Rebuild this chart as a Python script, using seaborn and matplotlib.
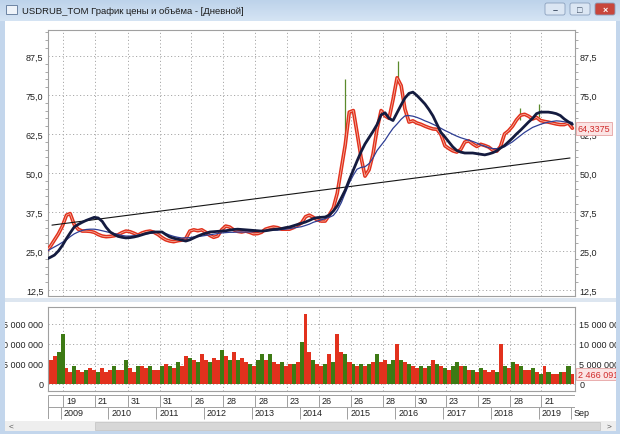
import numpy as np
import pandas as pd
import seaborn as sns
import matplotlib
matplotlib.use('Agg')
import matplotlib.pyplot as plt
import matplotlib.dates as mdates
import matplotlib.transforms as mtrans
from matplotlib.colors import LinearSegmentedColormap
from matplotlib.patches import Rectangle, FancyBboxPatch
from matplotlib.ticker import MultipleLocator

W, H = 620, 435
RED = '#e2311d'
GREEN = '#3d7a14'
NAVY = '#141b3f'
BLUE = '#2f3f95'
GRID = '#a9a9a9'
FRAME = '#a0a0a0'
WIN = '#c3d6ec'

# monthly values, Sep 2008 .. Sep 2019
close_price = [
    25.0, 26.5, 28.5, 30.5,
    33.0, 36.5, 37.0, 33.5, 32.0, 31.4, 31.4, 31.3, 31.0, 30.3, 29.8, 29.6,
    29.7, 29.9, 30.2, 30.9, 31.4, 31.2, 30.7, 30.1, 30.8, 31.2, 31.4, 31.0,
    30.3, 29.3, 28.6, 28.2, 28.0, 28.3, 28.5, 29.0, 31.4, 31.8, 31.5, 31.8,
    31.0, 30.0, 29.4, 29.8, 31.8, 33.0, 32.7, 31.8, 31.3, 31.1, 31.4, 31.0,
    30.5, 30.6, 31.0, 32.0, 32.4, 32.7, 32.5, 32.0, 32.0, 32.0, 32.5, 33.2,
    34.0, 36.0, 36.5, 35.8, 35.0, 34.6, 34.6, 36.5, 38.8, 43.5, 51.3, 59.0,
    69.5, 70.0, 63.0, 55.0, 49.0, 51.0, 56.0, 64.0, 70.0, 68.3, 67.5, 73.5,
    80.5, 78.0, 70.5, 66.3, 66.7, 66.0, 65.6, 65.0, 64.5, 64.1, 64.0, 62.3,
    58.7, 57.8, 57.1, 56.7, 57.5, 59.9, 60.3, 59.3, 58.5, 59.2, 58.8, 58.3,
    57.3, 57.0, 58.5, 62.5, 63.5, 65.0, 67.0, 68.5, 68.8, 68.2, 67.3, 67.8,
    66.8, 66.5, 66.3, 66.0, 65.7, 65.5, 65.5, 66.0, 64.3375,
]
ma_long = [
    22.4, 23.0, 23.7, 25.0,
    26.8, 29.0, 30.8, 32.7, 33.5, 34.2, 34.8, 35.3, 35.8, 35.6, 34.5, 32.6,
    31.1, 30.3, 29.7, 29.4, 29.2, 29.3, 29.5, 29.8, 30.2, 30.6, 30.9, 31.1,
    31.1, 31.1, 30.3, 29.5, 29.1, 28.8, 28.5, 28.2, 28.6, 29.2, 29.8, 30.3,
    30.7, 31.1, 31.2, 31.3, 31.4, 31.5, 31.7, 31.9, 32.0, 31.9, 31.8, 31.7,
    31.6, 31.5, 31.4, 31.5, 31.7, 31.9, 32.0, 32.2, 32.5, 32.7, 33.1, 33.5,
    33.9, 34.3, 34.8, 35.4, 35.7, 35.8, 35.9, 36.5, 37.8, 39.5, 42.0, 44.5,
    47.8, 51.0, 53.8, 56.8, 59.3, 61.3, 63.3, 65.5, 68.6, 69.3, 67.5, 66.8,
    69.3, 71.8, 74.0, 75.5, 75.9, 74.8, 73.5, 72.1, 70.3, 68.3, 65.6, 63.0,
    61.5, 59.9, 58.4, 57.2, 56.7, 56.4, 56.4, 56.4, 56.2, 56.0, 55.8, 56.1,
    56.5, 57.1, 58.0, 58.8, 60.0, 61.2, 62.5, 63.7, 65.0, 66.3, 67.5, 69.0,
    69.5, 69.5, 69.5, 69.3, 69.0, 68.4, 67.3, 66.4, 65.6,
]
ma_short = [
    24.8, 25.6, 26.3, 27.0,
    27.8, 28.6, 29.6, 30.5, 31.1, 31.6, 31.9, 32.0, 32.0, 31.8, 31.5, 31.2,
    30.9, 30.6, 30.3, 30.0, 29.8, 29.8, 29.9, 30.1, 30.3, 30.5, 30.7, 30.9,
    31.0, 31.0, 30.6, 30.1, 29.7, 29.4, 29.2, 29.2, 29.3, 29.5, 29.6, 29.8,
    30.0, 30.2, 30.4, 30.6, 30.8, 30.9, 31.0, 31.0, 31.1, 31.1, 31.1, 31.1,
    31.2, 31.3, 31.4, 31.5, 31.6, 31.7, 31.7, 31.9, 32.0, 32.2, 32.4, 32.6,
    32.8, 33.2, 33.6, 34.2, 34.6, 35.0, 35.4, 35.8, 36.4, 38.0, 40.5, 43.6,
    46.8, 49.3, 51.2, 51.8, 52.0, 53.0, 54.8, 57.2, 58.9, 60.5, 62.5, 64.3,
    65.7, 67.2, 68.3, 68.4, 68.2, 67.8, 67.3, 66.7, 66.2, 65.6, 65.0, 64.3,
    63.6, 63.0, 62.4, 61.8, 61.3, 60.9, 60.5, 60.1, 59.6, 59.0, 58.6, 58.1,
    57.8, 57.8, 58.0, 58.4, 59.2, 60.0, 61.0, 62.0, 63.0, 63.8, 64.6, 65.1,
    65.6, 66.0, 66.3, 66.5, 66.7, 66.6, 66.4, 66.3, 66.2,
]
volume_mln = [
    6.5, 6.0, 7.0, 8.0,
    12.5, 4.0, 3.0, 4.5, 3.5, 3.0, 3.5, 4.0, 3.5, 3.0, 4.0, 3.0,
    3.5, 4.5, 3.5, 3.5, 6.0, 4.0, 3.0, 4.5, 4.5, 4.0, 4.5, 3.5,
    3.5, 4.5, 5.0, 4.5, 4.0, 5.5, 4.5, 7.0, 6.5, 6.0, 5.5, 7.5,
    6.0, 5.5, 6.5, 6.0, 8.5, 7.0, 6.0, 8.0, 6.0, 6.5, 5.5, 5.0,
    4.5, 6.0, 7.5, 6.0, 7.5, 5.5, 5.0, 5.5, 4.5, 5.0, 5.0, 5.5,
    10.5, 17.5, 8.0, 6.0, 5.0, 4.5, 5.0, 7.5, 5.5, 12.5, 8.0, 7.5,
    5.5, 5.0, 4.5, 5.0, 4.5, 5.0, 5.5, 7.5, 5.5, 6.0, 5.0, 6.0,
    10.0, 6.0, 5.5, 5.0, 4.5, 4.0, 4.5, 4.0, 4.5, 6.0, 5.0, 4.5,
    4.0, 3.5, 4.5, 5.5, 4.5, 4.5, 3.5, 3.5, 3.0, 4.0, 3.5, 3.0,
    3.5, 3.0, 10.0, 4.5, 4.0, 5.5, 5.0, 4.5, 3.5, 3.5, 4.0, 3.0,
    2.5, 4.5, 3.0, 2.5, 2.5, 3.0, 3.0, 4.5, 2.466091,
]
# dominant bar colour of each month in the volume panel: g = up, r = down
volume_side = ''.join([
    'grrg',
    'grrgrrgrrgrr', 'rgrrgrrgrrgr', 'rgrgrgrrgrgr', 'rgrrgrgrgrrg',
    'rggrgrrgrrgr', 'grrgrrgrgrrg', 'rgrgrgrgrrgg', 'rgrgrrgrgrgr',
    'grggrgrgrgrr', 'rgrgrgrgrrgr',
    'grgrrgrgr',
])
# spikes (high wicks) seen on the price line
wick_dates = ['2014-12-16', '2016-01-21', '2018-08-08', '2019-01-02']
wick_low = [58.0, 79.0, 67.0, 68.0]
wick_high = [80.1, 85.9, 70.8, 72.1]
# trend line end points
trend_dates = ['2008-10-27', '2019-08-28']
trend_vals = [33.3, 54.8]

tick_dates = ['2009-01-19', '2009-09-21', '2010-05-31', '2011-01-31', '2011-09-26',
              '2012-05-28', '2013-01-28', '2013-09-23', '2014-05-26', '2015-01-26',
              '2015-09-28', '2016-05-30', '2017-01-23', '2017-09-25', '2018-05-28',
              '2019-01-21']
tick_days = ['19', '21', '31', '31', '26', '28', '28', '23', '26', '26', '28', '30',
             '23', '25', '28', '21']
year_starts = ['2009-01-01', '2010-01-01', '2011-01-01', '2012-01-01', '2013-01-01',
               '2014-01-01', '2015-01-01', '2016-01-01', '2017-01-01', '2018-01-01',
               '2019-01-01', '2019-09-01']
year_labels = ['2009', '2010', '2011', '2012', '2013', '2014', '2015', '2016', '2017',
               '2018', '2019', 'Sep']
price_ticks = [12.5, 25.0, 37.5, 50.0, 62.5, 75.0, 87.5]
vol_ticks = [0, 5, 10, 15]
vol_labels = ['0', '5 000 000', '10 000 000', '15 000 000']

months = pd.date_range('2008-09-01', '2019-09-01', freq='MS')
df = pd.DataFrame({
    'x': mdates.date2num(months + pd.Timedelta(days=14)),
    'close': close_price,
    'ma_long': ma_long,
    'ma_short': ma_short,
    'vol': volume_mln,
    'side': list(volume_side),
})
bin_edges = mdates.date2num(pd.date_range('2008-09-01', '2019-10-01', freq='MS'))
XLIM = (mdates.date2num(pd.Timestamp('2008-09-23')), mdates.date2num(pd.Timestamp('2019-10-05')))

sns.set_style('white')
plt.rcParams['font.family'] = ['Liberation Sans', 'DejaVu Sans']

fig = plt.figure(figsize=(W / 100, H / 100), dpi=100)
fig.patch.set_facecolor(WIN)


def px_rect(x0, y0, x1, y1):
    return [x0 / W, 1 - y1 / H, (x1 - x0) / W, (y1 - y0) / H]


# window background, title bar, scrollbar
bg = fig.add_axes([0, 0, 1, 1], zorder=-10)
bg.axis('off')
grad = np.linspace(0, 1, 40).reshape(-1, 1)
bg.imshow(grad, extent=(0, W, 22, 0), aspect='auto',
          cmap=LinearSegmentedColormap.from_list('tb', ['#bcd2ea', '#d5e4f4']))
bg.set_xlim(0, W)
bg.set_ylim(H, 0)
bg.add_patch(Rectangle((5, 22), 611, 411, fc='white', ec='none'))
bg.add_patch(Rectangle((6, 6), 11, 9, fc='#eef3f9', ec='#6d84a3', lw=0.7))
bg.text(22, 11.5, 'USDRUB_TOM График цены и объёма - [Дневной]', va='center',
        fontsize=6.8, color='#1c1c1c')
for x0, fc, sym, col in [(545, '#dbe6f3', '–', '#3a4a60'), (570, '#dbe6f3', '□', '#3a4a60'),
                         (595, '#c8463c', '×', 'white')]:
    bg.add_patch(FancyBboxPatch((x0, 4), 20, 12, boxstyle='round,pad=0,rounding_size=2',
                                fc=fc, ec='#8aa0bd', lw=0.6))
    bg.text(x0 + 10, 10.5, sym, ha='center', va='center', fontsize=6.5, color=col,
            fontweight='bold')
bg.add_patch(Rectangle((5, 299), 611, 4, fc='#dde6f0', ec='none'))
bg.add_patch(Rectangle((5, 422), 611, 10, fc='#eeeeee', ec='none'))
bg.add_patch(Rectangle((95, 423), 505, 8, fc='#d7d7d7', ec='#c2c2c2', lw=0.5))
bg.text(11, 427, '<', ha='center', va='center', fontsize=6, color='#555555')
bg.text(609, 427, '>', ha='center', va='center', fontsize=6, color='#555555')


def style_panel(ax):
    ax.set_facecolor('white')
    ax.set_xlim(*XLIM)
    ax.set_xticks(mdates.date2num(pd.to_datetime(tick_dates)))
    ax.set_xticklabels([])
    ax.set_xlabel('')
    ax.set_ylabel('')
    ax.grid(True, color=GRID, ls=(0, (1.2, 2.4)), lw=0.7)
    ax.tick_params(axis='x', length=0)
    ax.tick_params(axis='y', which='major', length=0, labelsize=6.5, labelcolor='#222222',
                   left=True, right=True, labelleft=True, labelright=True, pad=3)
    for s in ax.spines.values():
        s.set_color(FRAME)
        s.set_linewidth(0.8)


# price panel
ax_p = fig.add_axes(px_rect(47.5, 31, 575, 297))
ax_p.vlines(mdates.date2num(pd.to_datetime(wick_dates)), wick_low, wick_high,
            color='#5b8a2c', lw=0.9, zorder=2)
sns.lineplot(data=df, x='x', y='close', color=RED, lw=2.6, ax=ax_p, zorder=3)
sns.lineplot(data=df, x='x', y='close', color='#f4c2b0', lw=0.5, ax=ax_p, zorder=3)
sns.lineplot(x=mdates.date2num(pd.to_datetime(trend_dates)), y=trend_vals,
             color='#151515', lw=0.8, ax=ax_p, zorder=4)
sns.lineplot(data=df, x='x', y='ma_short', color=BLUE, lw=0.9, ax=ax_p, zorder=4)
sns.lineplot(data=df, x='x', y='ma_long', color=NAVY, lw=2.0, ax=ax_p, zorder=5)
style_panel(ax_p)
ax_p.set_ylim(10.6, 95.8)
ax_p.set_yticks(price_ticks)
ax_p.set_yticklabels([f'{v:.1f}'.replace('.', ',') for v in price_ticks])
ax_p.yaxis.set_minor_locator(MultipleLocator(2.5))
ax_p.tick_params(axis='y', which='minor', length=2, color='#9a9a9a', direction='out',
                 left=True, right=True)
ytr = mtrans.blended_transform_factory(ax_p.transAxes, ax_p.transData)
ax_p.text(1 + 3 / 527.5, close_price[-1], '64,3375', transform=ytr, ha='left', va='center',
          fontsize=6.5, color='#d02a2a', zorder=10, clip_on=False,
          bbox=dict(boxstyle='square,pad=0.2', fc='#fbe4e4', ec='#e6a3a3', lw=0.6))

# volume panel
ax_v = fig.add_axes(px_rect(47.5, 308, 575, 392))
bar_colors = df['side'].map({'g': GREEN, 'r': RED}).tolist()
ax_v.bar(bin_edges[:-1], df['vol'], width=np.diff(bin_edges), align='edge',
         color=bar_colors, linewidth=0, zorder=2)
style_panel(ax_v)
ax_v.set_ylim(-1.75, 19.25)
ax_v.set_yticks(vol_ticks)
ax_v.set_yticklabels(vol_labels)
vtr = mtrans.blended_transform_factory(ax_v.transAxes, ax_v.transData)
ax_v.text(1 + 3 / 527.5, volume_mln[-1], '2 466 091', transform=vtr, ha='left', va='center',
          fontsize=6.5, color='#d02a2a', zorder=10, clip_on=False,
          bbox=dict(boxstyle='square,pad=0.2', fc='#fbe4e4', ec='#e6a3a3', lw=0.6))

# date rows
ax_d = fig.add_axes(px_rect(47.5, 396, 575, 420))
ax_d.axis('off')
ax_d.set_xlim(*XLIM)
ax_d.set_ylim(0, 2)
tk = mdates.date2num(pd.to_datetime(tick_dates))
yk = mdates.date2num(pd.to_datetime(year_starts))
ax_d.hlines([0, 1, 2], XLIM[0], XLIM[1], color=FRAME, lw=0.7)
ax_d.vlines([XLIM[0]], 0, 2, color=FRAME, lw=0.7)
ax_d.vlines(tk, 1, 2, color=FRAME, lw=0.7)
ax_d.vlines(yk, 0, 1, color=FRAME, lw=0.7, clip_on=False)
off = mtrans.offset_copy(ax_d.transData, fig=fig, x=3, y=0, units='dots')
for x, lab in zip(tk, tick_days):
    ax_d.text(x, 1.5, lab, transform=off, ha='left', va='center', fontsize=6.5,
              color='#222222')
for x, lab in zip(yk, year_labels):
    ax_d.text(x, 0.5, lab, transform=off, ha='left', va='center', fontsize=6.5,
              color='#222222', clip_on=False)

# window borders drawn over everything (they clip the long volume labels)
fg = fig.add_axes([0, 0, 1, 1], zorder=20)
fg.axis('off')
fg.set_xlim(0, W)
fg.set_ylim(H, 0)
fg.add_patch(Rectangle((0, 22), 5, H - 22, fc=WIN, ec='none'))
fg.add_patch(Rectangle((616, 22), 4, H - 22, fc=WIN, ec='none'))
fg.add_patch(Rectangle((0, 432), W, 3, fc=WIN, ec='none'))

fig.savefig('out.png', dpi=100)
